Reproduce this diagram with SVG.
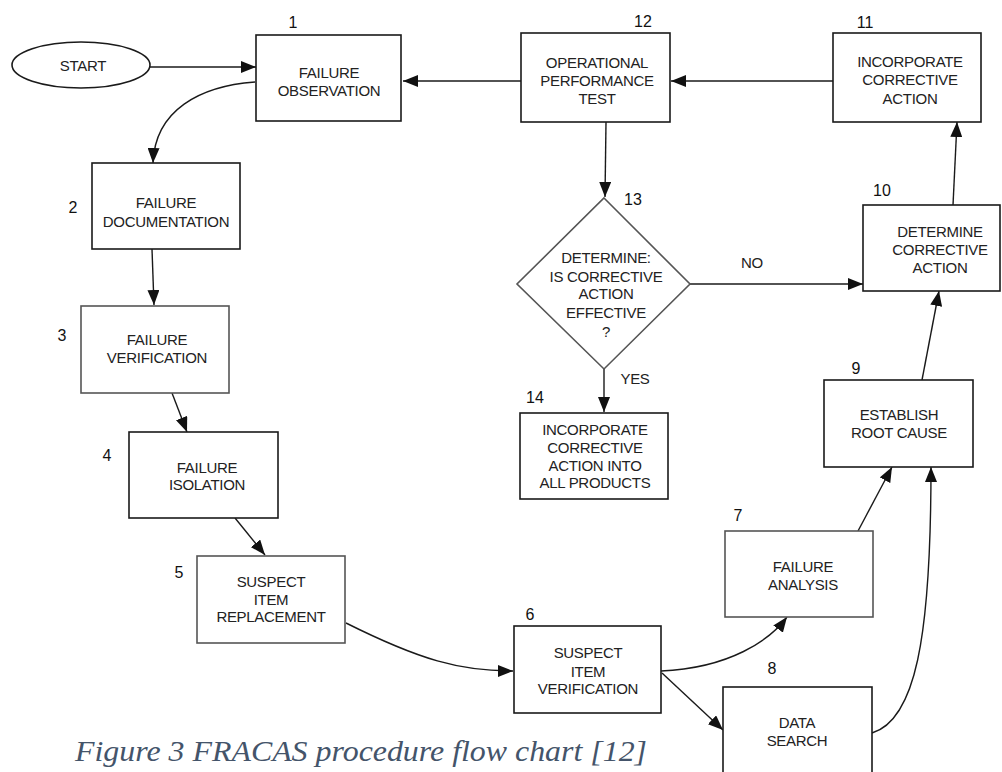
<svg xmlns="http://www.w3.org/2000/svg" width="1002" height="772" viewBox="0 0 1002 772">
<style>
.box{fill:#fff;stroke:#1a1a1a;stroke-width:1.6}
.lt{stroke:#555}
.t{font-family:"Liberation Sans",Arial,sans-serif;font-size:15px;fill:#222;text-anchor:middle;letter-spacing:-0.3px}
.n{font-family:"Liberation Sans",Arial,sans-serif;font-size:16px;fill:#111;text-anchor:middle}
.c{fill:none;stroke:#1a1a1a;stroke-width:1.4;marker-end:url(#ah)}
.cap{font-family:"Liberation Serif","Times New Roman",serif;font-style:italic;font-size:29px;fill:#44546A}
</style>
<defs>
<marker id="ah" markerUnits="userSpaceOnUse" markerWidth="16" markerHeight="12" refX="15" refY="6" orient="auto">
<path d="M0,0 L15,6 L0,12 z" fill="#111"/>
</marker>
</defs>
<g id="connectors">
<path class="c" d="M150,67 L256,67"/>
<path class="c" d="M255,82 C200,86 155,110 153,163"/>
<path class="c" d="M152,249 L154,305"/>
<path class="c" d="M172,393 L187,432"/>
<path class="c" d="M235,518 L265,555"/>
<path class="c" d="M346,623 C420,660 460,671 513,671"/>
<path class="c" d="M661,671 C730,668 770,640 787,617"/>
<path class="c" d="M662,673 L723,730"/>
<path class="c" d="M858,531 L892,467"/>
<path class="c" d="M872,733 C915,720 931,640 931,467"/>
<path class="c" d="M922,380 L939,291"/>
<path class="c" d="M953,205 L957,122"/>
<path class="c" d="M833,81 L671,81"/>
<path class="c" d="M521,81 L403,81"/>
<path class="c" d="M606,122 L605,197"/>
<path class="c" d="M690,284 L863,284"/>
<path class="c" d="M604,369 L604,412"/>
<text class="t" x="752" y="268">NO</text>
<text class="t" x="635" y="384">YES</text>
</g>
<g id="start">
<ellipse class="box" cx="81" cy="65" rx="69" ry="23"/>
<text class="t" x="83" y="71">START</text>
</g>
<g id="n1">
<rect class="box" x="256" y="35" width="145" height="86"/>
<text class="n" x="293" y="28">1</text>
<text class="t" x="329" y="78">FAILURE</text>
<text class="t" x="329" y="96">OBSERVATION</text>
</g>
<g id="n2">
<rect class="box" x="92" y="163" width="148" height="86"/>
<text class="n" x="73" y="213">2</text>
<text class="t" x="166" y="208">FAILURE</text>
<text class="t" x="166" y="227">DOCUMENTATION</text>
</g>
<g id="n3">
<rect class="box lt" x="81" y="306" width="148" height="87"/>
<text class="n" x="62" y="341">3</text>
<text class="t" x="157" y="345">FAILURE</text>
<text class="t" x="157" y="363">VERIFICATION</text>
</g>
<g id="n4">
<rect class="box" x="129" y="432" width="149" height="86"/>
<text class="n" x="107" y="461">4</text>
<text class="t" x="207" y="473">FAILURE</text>
<text class="t" x="207" y="490">ISOLATION</text>
</g>
<g id="n5">
<rect class="box lt" x="197" y="556" width="148" height="87"/>
<text class="n" x="179" y="578">5</text>
<text class="t" x="271" y="587">SUSPECT</text>
<text class="t" x="271" y="605">ITEM</text>
<text class="t" x="271" y="622">REPLACEMENT</text>
</g>
<g id="n6">
<rect class="box" x="514" y="626" width="147" height="87"/>
<text class="n" x="530" y="620">6</text>
<text class="t" x="588" y="658">SUSPECT</text>
<text class="t" x="588" y="677">ITEM</text>
<text class="t" x="588" y="694">VERIFICATION</text>
</g>
<g id="n7">
<rect class="box lt" x="725" y="531" width="148" height="86"/>
<text class="n" x="738" y="521">7</text>
<text class="t" x="803" y="572">FAILURE</text>
<text class="t" x="803" y="590">ANALYSIS</text>
</g>
<g id="n8">
<rect class="box" x="723" y="687" width="149" height="120"/>
<text class="n" x="772" y="674">8</text>
<text class="t" x="797" y="728">DATA</text>
<text class="t" x="797" y="746">SEARCH</text>
</g>
<g id="n9">
<rect class="box" x="824" y="380" width="149" height="87"/>
<text class="n" x="856" y="374">9</text>
<text class="t" x="899" y="420">ESTABLISH</text>
<text class="t" x="899" y="438">ROOT CAUSE</text>
</g>
<g id="n10">
<rect class="box" x="863" y="205" width="137" height="86"/>
<text class="n" x="882" y="196">10</text>
<text class="t" x="940" y="237">DETERMINE</text>
<text class="t" x="940" y="255">CORRECTIVE</text>
<text class="t" x="940" y="273">ACTION</text>
</g>
<g id="n11">
<rect class="box" x="833" y="33" width="148" height="89"/>
<text class="n" x="865" y="28">11</text>
<text class="t" x="910" y="67">INCORPORATE</text>
<text class="t" x="910" y="85">CORRECTIVE</text>
<text class="t" x="910" y="104">ACTION</text>
</g>
<g id="n12">
<rect class="box" x="521" y="33" width="149" height="89"/>
<text class="n" x="643" y="27">12</text>
<text class="t" x="597" y="68">OPERATIONAL</text>
<text class="t" x="597" y="86">PERFORMANCE</text>
<text class="t" x="597" y="104">TEST</text>
</g>
<g id="n13">
<polygon class="box lt" points="604,198 690,284 604,369 517,284"/>
<text class="n" x="633" y="205">13</text>
<text class="t" x="606" y="263">DETERMINE:</text>
<text class="t" x="606" y="282">IS CORRECTIVE</text>
<text class="t" x="606" y="299">ACTION</text>
<text class="t" x="606" y="318">EFFECTIVE</text>
<text class="t" x="606" y="337">?</text>
</g>
<g id="n14">
<rect class="box" x="520" y="413" width="148" height="86"/>
<text class="n" x="535" y="403">14</text>
<text class="t" x="595" y="435">INCORPORATE</text>
<text class="t" x="595" y="453">CORRECTIVE</text>
<text class="t" x="595" y="471">ACTION INTO</text>
<text class="t" x="595" y="488">ALL PRODUCTS</text>
</g>
<g id="caption">
<text class="cap" x="75" y="761" textLength="572" lengthAdjust="spacingAndGlyphs">Figure 3 FRACAS procedure flow chart [12]</text>
</g>
</svg>
